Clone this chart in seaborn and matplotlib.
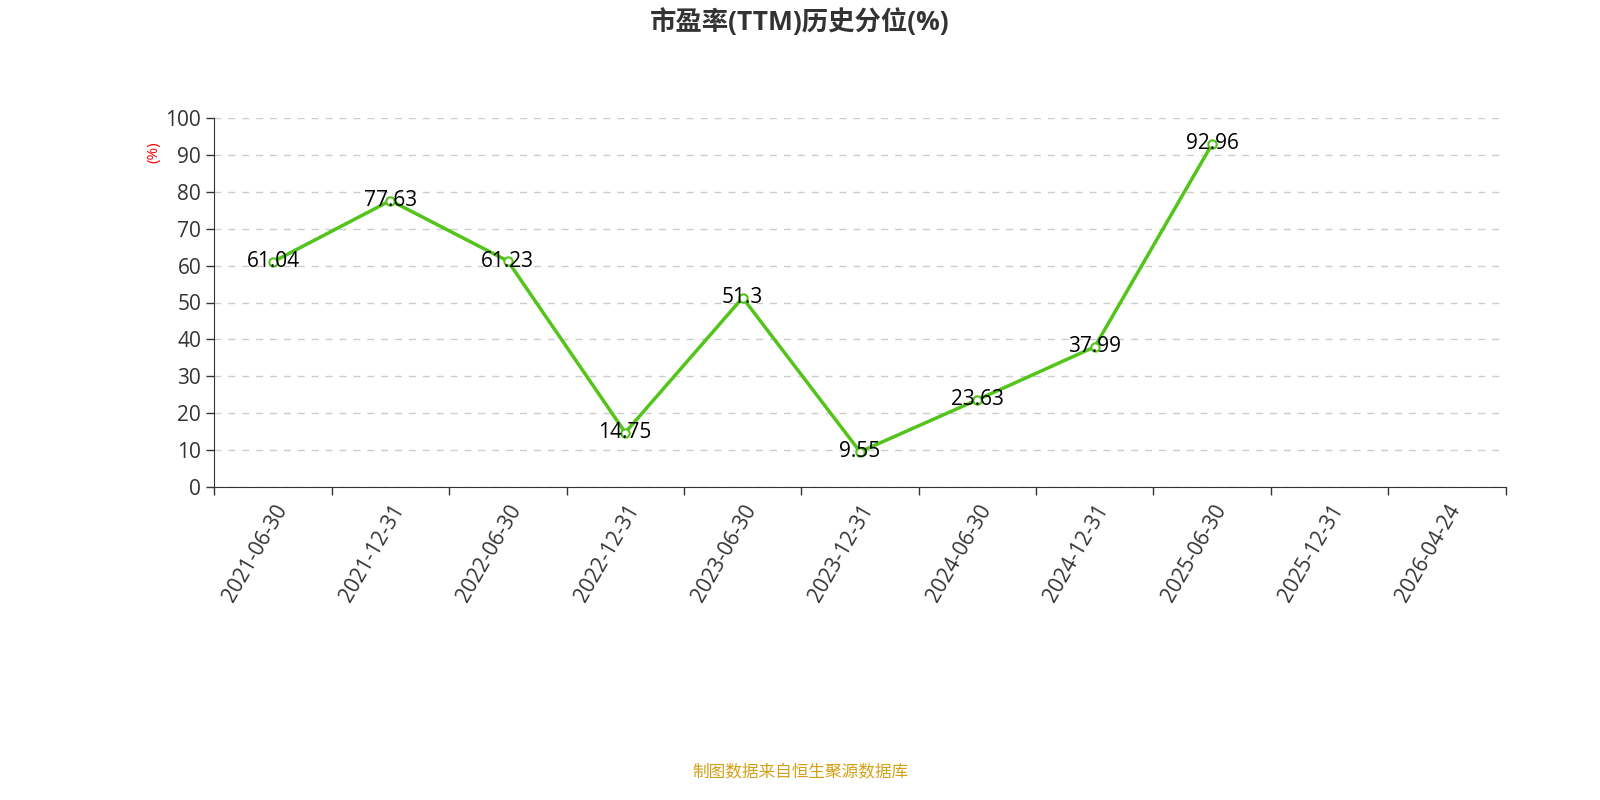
import numpy as np
import pandas as pd
import seaborn as sns
import matplotlib
matplotlib.use('Agg')
import matplotlib.pyplot as plt

dates = ['2021-06-30', '2021-12-31', '2022-06-30', '2022-12-31', '2023-06-30',
         '2023-12-31', '2024-06-30', '2024-12-31', '2025-06-30', '2025-12-31', '2026-04-24']
values = [61.04, 77.63, 61.23, 14.75, 51.3, 9.55, 23.63, 37.99, 92.96, np.nan, np.nan]
labels = ['61.04', '77.63', '61.23', '14.75', '51.3', '9.55', '23.63', '37.99', '92.96', '', '']

sns.set_style('white')
plt.rcParams['font.family'] = ['Open Sans', 'Noto Sans CJK SC', 'DejaVu Sans']

df = pd.DataFrame({'pos': np.arange(len(dates)), 'val': values})

fig = plt.figure(figsize=(16, 8), dpi=100)
ax = fig.add_axes([0.134, 0.39125, 0.807, 0.46125])
green = '#52c41a'
sns.lineplot(data=df.dropna(), x='pos', y='val', ax=ax, color=green, linewidth=2.5,
             marker='o', markersize=6, markerfacecolor='white', markeredgecolor=green,
             markeredgewidth=1.5)
for x, v, t in zip(df['pos'], values, labels):
    if t:
        ax.text(x, v, t, ha='center', va='center', fontsize=15, color='black')

ax.set_xlim(-0.5, len(dates) - 0.5)
ax.set_ylim(0, 100)
ax.set_yticks(range(0, 101, 10))
ax.set_xticks(np.arange(len(dates)))
ax.set_xticklabels(dates, rotation=60, ha='right', rotation_mode='anchor', fontsize=15, color='#333333')
ax.set_xticks(np.arange(-0.5, len(dates)), minor=True)
ax.tick_params(axis='x', which='major', bottom=True, length=0, pad=10)
ax.tick_params(axis='x', which='minor', bottom=True, length=6, width=1, color='#333333')
ax.tick_params(axis='y', left=True, length=6, width=1, labelsize=15, labelcolor='#333333', color='#333333')
ax.yaxis.grid(True, linestyle=(0, (5, 5)), color='#cccccc', linewidth=1)
ax.xaxis.grid(False)
for s in ['top', 'right']:
    ax.spines[s].set_visible(False)
for s in ['left', 'bottom']:
    ax.spines[s].set_color('#333333')
ax.set_xlabel('')
ax.set_ylabel('')

fig.text(0.096, 0.81, '(%)', color='red', rotation=90, fontsize=11, ha='center', va='center')
fig.text(0.5, 0.972, '市盈率(TTM)历史分位(%)', fontsize=19, fontweight='bold', color='#333333',
         ha='center', va='center')
fig.text(0.5, 0.034, '制图数据来自恒生聚源数据库', fontsize=12, color='#d4a017', ha='center', va='center')

fig.savefig('out.png', dpi=100)
